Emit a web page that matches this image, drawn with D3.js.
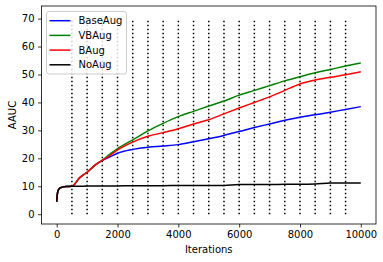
<!DOCTYPE html>
<html>
<head>
<meta charset="utf-8">
<script src="https://cdn.jsdelivr.net/npm/d3@7"></script>
<style>
  body { margin: 0; background: #fff; }
  text { font-family: "DejaVu Sans", sans-serif; }
</style>
</head>
<body>
<script>
// iterations sampled along the curves
let iters = [0, 25, 50, 100, 200, 300, 500, 750, 1000, 1250, 1500, 1750, 2000, 2500, 3000,
  3500, 4000, 4500, 5000, 5500, 6000, 6500, 7000, 7500, 8000, 8500, 9000, 9500, 10000];

let baseAug = [4.5, 7.5, 8.6, 9.3, 9.7, 9.9, 10.0, 13.0, 15.0, 17.5, 19.2, 20.5, 21.8, 23.2, 24.0,
  24.4, 24.9, 25.9, 27.0, 28.2, 29.6, 31.0, 32.3, 33.6, 34.7, 35.6, 36.5, 37.5, 38.5];
let vbAug = [4.5, 7.5, 8.6, 9.3, 9.7, 9.9, 10.0, 13.0, 15.0, 17.5, 19.4, 21.5, 23.5, 26.6, 29.8,
  32.5, 34.9, 36.8, 38.7, 40.5, 42.6, 44.3, 46.0, 47.7, 49.2, 50.6, 51.8, 53.0, 54.1];
let bAug = [4.5, 7.5, 8.6, 9.3, 9.7, 9.9, 10.0, 13.0, 15.0, 17.5, 19.3, 21.0, 23.0, 25.8, 27.9,
  29.2, 30.6, 32.3, 33.8, 35.9, 38.0, 40.0, 42.0, 44.3, 46.6, 48.0, 49.0, 49.9, 51.0];
let noAug = [4.5, 7.5, 8.6, 9.3, 9.7, 9.9, 10.0, 10.0, 10.1, 10.1, 10.1, 10.1, 10.1, 10.2, 10.2,
  10.2, 10.3, 10.3, 10.3, 10.3, 10.6, 10.6, 10.6, 10.7, 10.7, 10.8, 11.2, 11.2, 11.2];

let seriesNames = ['BaseAug', 'VBAug', 'BAug', 'NoAug'];
let seriesColors = ['#0000ff', '#008000', '#ff0000', '#000000'];
let seriesValues = [baseAug, vbAug, bAug, noAug];

// dotted markers
let markIters = [500, 1000, 1500, 2000, 2500, 3000, 3500, 4000, 4500, 5000,
  5500, 6000, 6500, 7000, 7500, 8000, 8500, 9000, 9500];
let markRange = [0, 70];

let xTicks = [0, 2000, 4000, 6000, 8000, 10000];
let yTicks = [0, 10, 20, 30, 40, 50, 60, 70];

let width = 383, height = 262;
let pLeft = 41.5, pRight = 376, pTop = 6, pBottom = 224;

let svg = d3.select('body').append('svg')
  .attr('width', width)
  .attr('height', height);

let x = d3.scaleLinear().domain([-500, 10500]).range([pLeft, pRight]);
let y = d3.scaleLinear().domain([-3.5, 74.5]).range([pBottom, pTop]);

// vertical dotted lines
svg.append('g')
  .selectAll('line')
  .data(markIters)
  .enter().append('line')
  .attr('x1', d => x(d)).attr('x2', d => x(d))
  .attr('y1', y(markRange[0])).attr('y2', y(markRange[1]))
  .attr('stroke', '#000')
  .attr('stroke-width', 1.5)
  .attr('stroke-dasharray', '1.5,2.5');

let line = d3.line()
  .x((d, i) => x(iters[i]))
  .y(d => y(d))
  .curve(d3.curveMonotoneX);

svg.append('g')
  .selectAll('path')
  .data(seriesValues)
  .enter().append('path')
  .attr('d', d => line(d))
  .attr('fill', 'none')
  .attr('stroke', (d, i) => seriesColors[i])
  .attr('stroke-width', 1.5)
  .attr('stroke-linejoin', 'round');

// axes
let xAxis = svg.append('g')
  .attr('transform', 'translate(0,' + pBottom + ')')
  .call(d3.axisBottom(x).tickValues(xTicks).tickSize(3.5).tickPadding(3.5).tickFormat(d3.format('d')));
let yAxis = svg.append('g')
  .attr('transform', 'translate(' + pLeft + ',0)')
  .call(d3.axisLeft(y).tickValues(yTicks).tickSize(3.5).tickPadding(3.5));

[xAxis, yAxis].forEach(g => {
  g.select('.domain').remove();
  g.selectAll('line').attr('stroke', '#000').attr('stroke-width', 0.8);
  g.selectAll('text').attr('fill', '#000').style('font-size', '10px');
});

// frame
svg.append('rect')
  .attr('x', pLeft).attr('y', pTop)
  .attr('width', pRight - pLeft).attr('height', pBottom - pTop)
  .attr('fill', 'none')
  .attr('stroke', '#000')
  .attr('stroke-width', 0.8);

svg.append('text')
  .attr('x', (pLeft + pRight) / 2)
  .attr('y', 253)
  .attr('text-anchor', 'middle')
  .style('font-size', '10px')
  .text('Iterations');

svg.append('text')
  .attr('transform', 'translate(16,' + (pTop + pBottom) / 2 + ') rotate(-90)')
  .attr('text-anchor', 'middle')
  .style('font-size', '10px')
  .text('AAUC');

// legend
let legend = svg.append('g').attr('transform', 'translate(46.5,11.5)');
legend.append('rect')
  .attr('width', 80).attr('height', 62.5)
  .attr('rx', 2.5)
  .attr('fill', '#fff').attr('fill-opacity', 0.8)
  .attr('stroke', '#ccc').attr('stroke-width', 1);

let rows = legend.selectAll('.row')
  .data(seriesNames)
  .enter().append('g')
  .attr('transform', (d, i) => 'translate(0,' + (9.2 + i * 14.7) + ')');
rows.append('line')
  .attr('x1', 3).attr('x2', 24)
  .attr('stroke', (d, i) => seriesColors[i])
  .attr('stroke-width', 1.5);
rows.append('text')
  .attr('x', 32)
  .attr('dy', '0.35em')
  .style('font-size', '10px')
  .text(d => d);
</script>
</body>
</html>
